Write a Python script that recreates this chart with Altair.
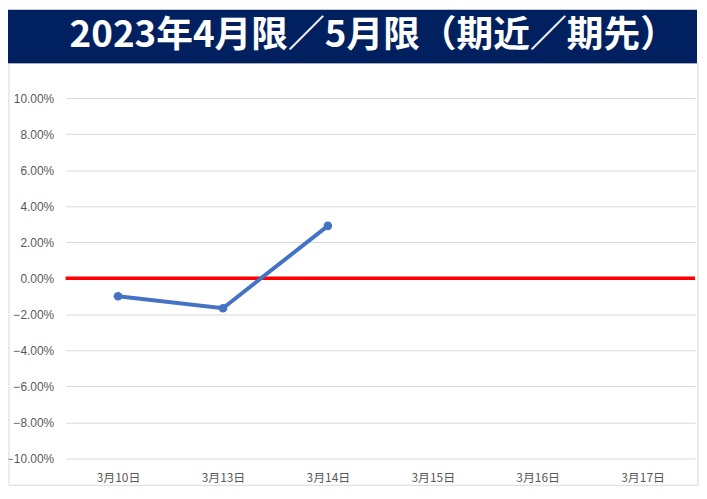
import altair as alt
import pandas as pd

# ---- data ----
dates = ["3月10日", "3月13日", "3月14日", "3月15日", "3月16日", "3月17日"]
spread_dates = ["3月10日", "3月13日", "3月14日"]
spread_values = [-0.0100, -0.0166, 0.0291]
zero_line = [0.0]
y_ticks = [-0.10, -0.08, -0.06, -0.04, -0.02, 0.0, 0.02, 0.04, 0.06, 0.08, 0.10]
title_text = "2023年4月限／5月限（期近／期先）"

W, H = 634, 363
FONT = "Noto Sans CJK JP"

line_df = pd.DataFrame({"date": spread_dates, "value": spread_values})
zero_df = pd.DataFrame({"value": zero_line})
title_df = pd.DataFrame({"t": [title_text]})

x_enc = alt.X(
    "date:N",
    sort=dates,
    scale=alt.Scale(domain=dates, type="point", padding=0.5),
    axis=alt.Axis(
        title=None, labelAngle=0, labelFont=FONT, labelFontSize=12,
        labelColor="#595959", ticks=False, domain=False, grid=False,
        labelPadding=14,
    ),
)
y_enc = alt.Y(
    "value:Q",
    scale=alt.Scale(domain=[-0.10, 0.10], nice=False, zero=False),
    axis=alt.Axis(
        title=None, format=".2%", values=y_ticks, labelFont="Liberation Sans",
        labelFontSize=12, labelColor="#595959", ticks=False, domain=False,
        grid=True, gridColor="#D9D9D9", gridWidth=1, labelPadding=12,
    ),
)

border = alt.Chart(title_df).mark_rect(
    fillOpacity=0, stroke="#D9D9D9", strokeWidth=1
).encode(
    x=alt.value(-57), x2=alt.value(W + 3), y=alt.value(-35), y2=alt.value(H + 27)
)

bar = alt.Chart(title_df).mark_rect(color="#002060").encode(
    x=alt.value(-58), x2=alt.value(W + 2), y=alt.value(-89), y2=alt.value(-35)
)

title = alt.Chart(title_df).mark_text(
    color="white", font=FONT, fontSize=37, fontWeight="bold",
    align="left", baseline="alphabetic",
).encode(text="t:N", x=alt.value(4), y=alt.value(-51))

zero = alt.Chart(zero_df).mark_rule(color="#FF0000", strokeWidth=3.5).encode(y=y_enc)

line = alt.Chart(line_df).mark_line(
    color="#4472C4", strokeWidth=4,
    point=alt.OverlayMarkDef(color="#4472C4", size=75, filled=True, opacity=1),
).encode(x=x_enc, y=y_enc)

chart = alt.layer(border, bar, title, zero, line).properties(
    width=W, height=H,
    autosize=alt.AutoSizeParams(type="none"),
    padding={"left": 58, "top": 89, "right": 4, "bottom": 28},
).configure_view(stroke=None)

chart.save("out.html", embed_options={"renderer": "svg", "actions": False})
